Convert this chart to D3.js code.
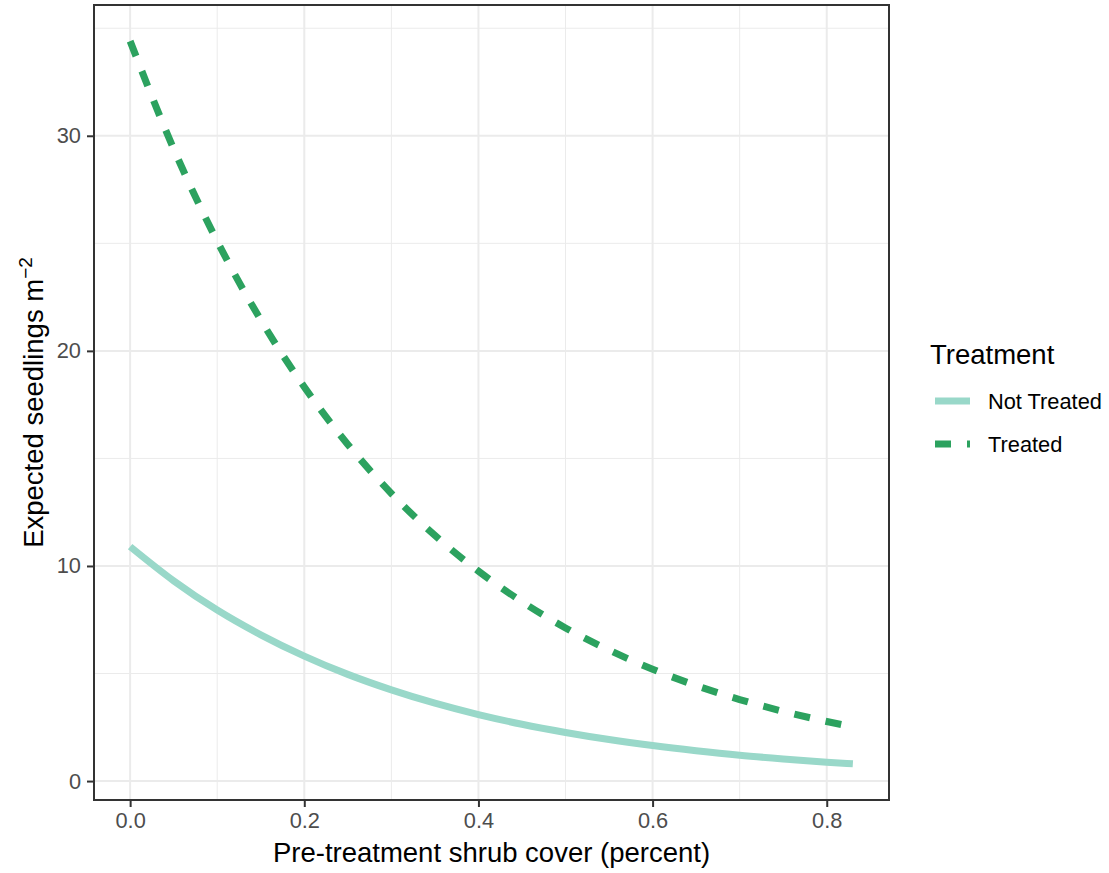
<!DOCTYPE html>
<html>
<head>
<meta charset="utf-8">
<script src="https://cdn.jsdelivr.net/npm/d3@7"></script>
<style>
  body { margin: 0; background: #fff; }
  svg { font-family: "Liberation Sans", Arial, sans-serif; }
</style>
</head>
<body>
<div id="chart"></div>
<script>
// values
const cover = [0, 0.05, 0.10, 0.15, 0.20, 0.25, 0.30, 0.35, 0.40, 0.45, 0.50, 0.55, 0.60, 0.65, 0.70, 0.75, 0.80, 0.83];
const notTreated = [10.9, 9.31, 7.95, 6.80, 5.81, 4.96, 4.24, 3.62, 3.09, 2.64, 2.26, 1.93, 1.65, 1.41, 1.20, 1.03, 0.88, 0.80];
const treated = [34.4, 29.39, 25.10, 21.44, 18.32, 15.65, 13.37, 11.42, 9.76, 8.34, 7.12, 6.09, 5.20, 4.44, 3.79, 3.24, 2.77, 2.52];
const seriesNames = ["Not Treated", "Treated"];
const xTicks = [0, 0.2, 0.4, 0.6, 0.8];
const xMinor = [0.1, 0.3, 0.5, 0.7];
const yTicks = [0, 10, 20, 30];
const yMinor = [5, 15, 25, 35];

const width = 1109, height = 873;
const panel = {left: 94, right: 889, top: 5, bottom: 800};
const colors = {"Not Treated": "#99d8c9", "Treated": "#2ca25f"};
const dashes = {"Not Treated": null, "Treated": "16,16"};

const series = seriesNames.map((name, i) => ({
  name: name,
  values: cover.map((c, j) => ({x: c, y: (i === 0 ? notTreated : treated)[j]}))
}));

// ggplot style 5% expansion
function expand(lo, hi) { let d = (hi - lo) * 0.05; return [lo - d, hi + d]; }
let allY = notTreated.concat(treated);

let x = d3.scaleLinear()
          .domain(expand(d3.min(cover), d3.max(cover)))
          .range([panel.left, panel.right]);
let y = d3.scaleLinear()
          .domain(expand(d3.min(allY), d3.max(allY)))
          .range([panel.bottom, panel.top]);

let svg = d3.select("#chart").append("svg")
            .attr("width", width)
            .attr("height", height);

// grid
let grid = svg.append("g");
grid.selectAll(".xminor").data(xMinor).enter().append("line")
    .attr("x1", d => x(d)).attr("x2", d => x(d))
    .attr("y1", panel.top).attr("y2", panel.bottom)
    .attr("stroke", "#ebebeb").attr("stroke-width", 1);
grid.selectAll(".yminor").data(yMinor).enter().append("line")
    .attr("y1", d => y(d)).attr("y2", d => y(d))
    .attr("x1", panel.left).attr("x2", panel.right)
    .attr("stroke", "#ebebeb").attr("stroke-width", 1);
grid.selectAll(".xmajor").data(xTicks).enter().append("line")
    .attr("x1", d => x(d)).attr("x2", d => x(d))
    .attr("y1", panel.top).attr("y2", panel.bottom)
    .attr("stroke", "#ebebeb").attr("stroke-width", 2);
grid.selectAll(".ymajor").data(yTicks).enter().append("line")
    .attr("y1", d => y(d)).attr("y2", d => y(d))
    .attr("x1", panel.left).attr("x2", panel.right)
    .attr("stroke", "#ebebeb").attr("stroke-width", 2);

// curves
let line = d3.line().x(d => x(d.x)).y(d => y(d.y)).curve(d3.curveMonotoneX);
svg.append("g").selectAll("path")
    .data(series)
    .enter()
    .append("path")
    .attr("d", d => line(d.values))
    .attr("fill", "none")
    .attr("stroke", d => colors[d.name])
    .attr("stroke-width", 7)
    .attr("stroke-dasharray", d => dashes[d.name]);

// panel border
svg.append("rect")
    .attr("x", panel.left).attr("y", panel.top)
    .attr("width", panel.right - panel.left)
    .attr("height", panel.bottom - panel.top)
    .attr("fill", "none")
    .attr("stroke", "#333333")
    .attr("stroke-width", 2);

// axes
let xAxis = svg.append("g")
    .attr("transform", `translate(0, ${panel.bottom})`)
    .call(d3.axisBottom(x).tickValues(xTicks).tickFormat(d3.format(".1f")).tickSize(7).tickPadding(6));
let yAxis = svg.append("g")
    .attr("transform", `translate(${panel.left}, 0)`)
    .call(d3.axisLeft(y).tickValues(yTicks).tickFormat(d3.format("d")).tickSize(7).tickPadding(6));
[xAxis, yAxis].forEach(a => {
  a.select(".domain").remove();
  a.selectAll(".tick line").attr("stroke", "#333333").attr("stroke-width", 2);
  a.selectAll(".tick text")
   .attr("fill", "#4d4d4d")
   .style("font-size", "21.8px")
   .style("font-family", "'Liberation Sans', Arial, sans-serif");
});

// axis titles
svg.append("text")
    .attr("x", (panel.left + panel.right) / 2)
    .attr("y", 862)
    .attr("text-anchor", "middle")
    .style("font-size", "27.5px")
    .attr("fill", "#000")
    .text("Pre-treatment shrub cover (percent)");

let ylab = svg.append("text")
    .attr("transform", `translate(43, ${(panel.top + panel.bottom) / 2}) rotate(-90)`)
    .attr("text-anchor", "middle")
    .style("font-size", "27.5px")
    .attr("fill", "#000");
ylab.append("tspan").text("Expected seedlings m");
ylab.append("tspan").attr("dy", -11).style("font-size", "19px").text("\u22122");

// legend
let legend = svg.append("g");
legend.append("text")
    .attr("x", 930).attr("y", 364)
    .style("font-size", "27.5px")
    .attr("fill", "#000")
    .text("Treatment");
let keys = legend.selectAll(".key")
    .data(seriesNames)
    .enter()
    .append("g")
    .attr("transform", (d, i) => `translate(0, ${401 + i * 43})`);
keys.append("line")
    .attr("x1", 935).attr("x2", 970)
    .attr("y1", 0).attr("y2", 0)
    .attr("stroke", d => colors[d])
    .attr("stroke-width", 7)
    .attr("stroke-dasharray", d => dashes[d]);
keys.append("text")
    .attr("x", 988).attr("y", 8)
    .style("font-size", "21.8px")
    .attr("fill", "#000")
    .text(d => d);
</script>
</body>
</html>
